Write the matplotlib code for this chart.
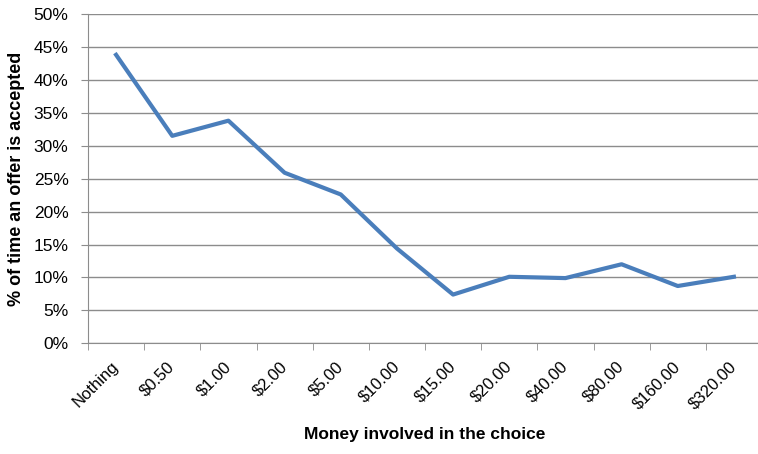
import matplotlib.pyplot as plt
import numpy as np
from matplotlib.ticker import FuncFormatter, FixedLocator

categories = ['Nothing', '$0.50', '$1.00', '$2.00', '$5.00', '$10.00', '$15.00',
              '$20.00', '$40.00', '$80.00', '$160.00', '$320.00']
accepted = [43.8, 31.5, 33.8, 25.9, 22.6, 14.4, 7.4, 10.1, 9.9, 12.0, 8.7, 10.1]

plt.rcParams['font.family'] = ['Liberation Sans', 'DejaVu Sans']

fig = plt.figure(figsize=(7.58, 4.54), dpi=100)
ax = fig.add_axes([88/758, 110.7/454, 674/758, 329.3/454])

x = np.arange(len(categories))
ax.plot(x, accepted, color='#4a7ebb', linewidth=3.0, zorder=3)

ax.set_xlim(-0.5, len(categories) - 0.5)
ax.set_ylim(0, 50)
ax.set_yticks(np.arange(0, 51, 5))
ax.yaxis.set_major_formatter(FuncFormatter(lambda v, p: '%d%%' % v))
ax.grid(axis='y', color='#8c8c8c', linewidth=1.0, zorder=0)

# labels sit at category centres, tick marks at the boundaries
ax.set_xticks(x)
ax.set_xticklabels(categories, rotation=45, ha='right', va='center',
                   rotation_mode='anchor', fontsize=12)
ax.xaxis.set_minor_locator(FixedLocator(np.arange(-0.5, len(categories), 1.0)))
ax.tick_params(axis='x', which='major', length=0, pad=15)
ax.tick_params(axis='x', which='minor', length=5, color='#8c8c8c', direction='out')
ax.tick_params(axis='y', length=5, color='#8c8c8c', labelsize=12.5, pad=9)

for s in ['top', 'right']:
    ax.spines[s].set_visible(False)
ax.spines['left'].set_color('#8c8c8c')
ax.spines['bottom'].set_color('#8c8c8c')

ax.set_xlabel('Money involved in the choice', fontsize=12.5, fontweight='bold', labelpad=11)
ax.set_ylabel('% of time an offer is accepted', fontsize=13, fontweight='bold', labelpad=6)

plt.savefig('out.png', dpi=100)
